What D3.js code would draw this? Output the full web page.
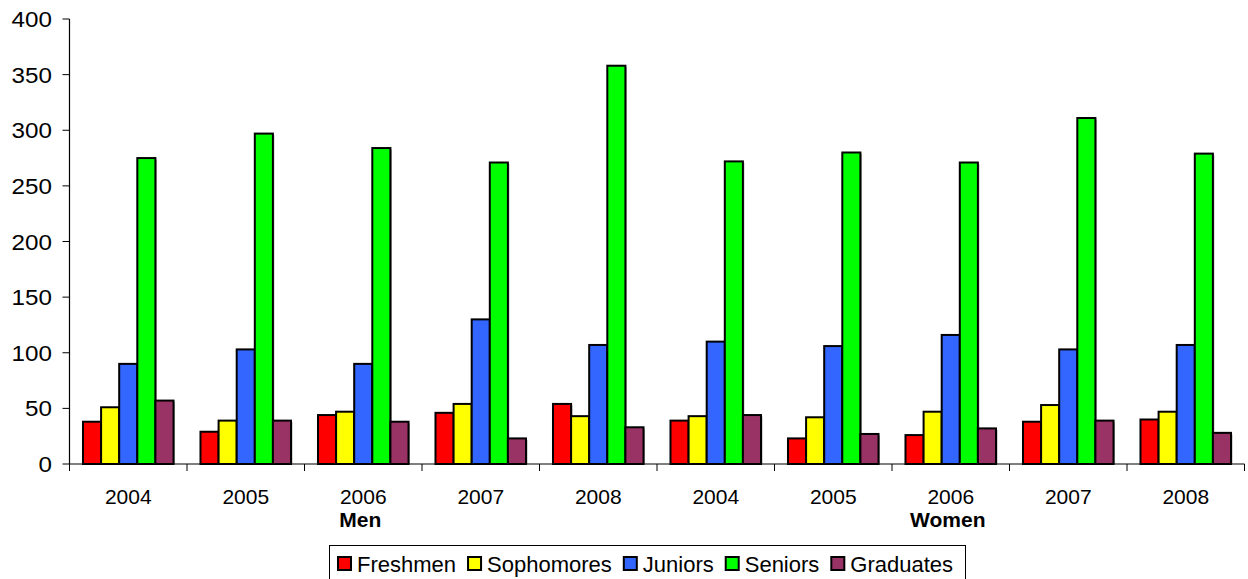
<!DOCTYPE html>
<html>
<head>
<meta charset="utf-8">
<script src="https://cdn.jsdelivr.net/npm/d3@7"></script>
<style>
  body { margin: 0; background: #fff; }
  text { font-family: "Liberation Sans", Arial, sans-serif; fill: #000; }
</style>
</head>
<body>
<svg id="chart" width="1248" height="579"></svg>
<script>
var width = 1248;
var height = 579;

// data
var years = ["2004", "2005", "2006", "2007", "2008"];
var sexes = ["Men", "Women"];
var series = ["Freshmen", "Sophomores", "Juniors", "Seniors", "Graduates"];
var colors = ["#ff0000", "#ffff00", "#3366ff", "#00ff00", "#993366"];

var freshmen   = [38, 29, 44, 46, 54, 39, 23, 26, 38, 40];
var sophomores = [51, 39, 47, 54, 43, 43, 42, 47, 53, 47];
var juniors    = [90, 103, 90, 130, 107, 110, 106, 116, 103, 107];
var seniors    = [275, 297, 284, 271, 358, 272, 280, 271, 311, 279];
var graduates  = [57, 39, 38, 23, 33, 44, 27, 32, 39, 28];

var yTicks = [0, 50, 100, 150, 200, 250, 300, 350, 400];

var values = [freshmen, sophomores, juniors, seniors, graduates];

// one entry per category (sex + year)
var groups = [];
sexes.forEach(function (s) {
  years.forEach(function (y) { groups.push(s + "|" + y); });
});

var margin = { left: 69.5, right: 3.5, top: 19, bottom: 115 };

var x = d3.scaleBand()
  .domain(groups)
  .range([margin.left, width - margin.right])
  .padding(0);

var xInner = d3.scaleBand()
  .domain(series)
  .range([0, x.bandwidth()])
  .paddingInner(0)
  .paddingOuter(0.745);

var y = d3.scaleLinear()
  .domain([0, 400])
  .range([464, margin.top]);

var svg = d3.select("#chart");

// bars
var g = svg.append("g");
groups.forEach(function (grp, gi) {
  var cell = g.append("g").attr("transform", "translate(" + x(grp) + ",0)");
  series.forEach(function (s, si) {
    var v = values[si][gi];
    // soft shadow
    cell.append("rect")
      .attr("x", xInner(s) + 1.5)
      .attr("y", y(v) + 1.5)
      .attr("width", xInner.bandwidth())
      .attr("height", y(0) - y(v) - 1.5)
      .attr("fill", "#b0b0b0");
    cell.append("rect")
      .attr("x", xInner(s))
      .attr("y", y(v))
      .attr("width", xInner.bandwidth())
      .attr("height", y(0) - y(v))
      .attr("fill", colors[si])
      .attr("stroke", "#000")
      .attr("stroke-width", 2);
  });
});

// y axis
var yAxis = svg.append("g");
yAxis.append("line")
  .attr("x1", margin.left).attr("x2", margin.left)
  .attr("y1", y(400)).attr("y2", y(0))
  .attr("stroke", "#000").attr("stroke-width", 1.2);
yAxis.selectAll(".yt")
  .data(yTicks)
  .join("line")
  .attr("x1", margin.left - 7).attr("x2", margin.left)
  .attr("y1", d => y(d)).attr("y2", d => y(d))
  .attr("stroke", "#000").attr("stroke-width", 1);
yAxis.selectAll(".yl")
  .data(yTicks)
  .join("text")
  .attr("x", 52)
  .attr("y", d => y(d) + 8)
  .attr("text-anchor", "end")
  .style("font-size", "22px")
  .each(function (d) {
    var t = d3.select(this).text(d);
    // reference digits are drawn a little wider than the font
    t.attr("textLength", this.getComputedTextLength() * 1.1)
     .attr("lengthAdjust", "spacingAndGlyphs");
  });

// x axis
var xAxis = svg.append("g");
xAxis.append("line")
  .attr("x1", margin.left).attr("x2", width - margin.right)
  .attr("y1", y(0)).attr("y2", y(0))
  .attr("stroke", "#000").attr("stroke-width", 1.2);
var edges = groups.map(d => x(d)).concat([x(groups[groups.length - 1]) + x.bandwidth()]);
xAxis.selectAll(".xt")
  .data(edges)
  .join("line")
  .attr("x1", d => d).attr("x2", d => d)
  .attr("y1", y(0)).attr("y2", y(0) + 7)
  .attr("stroke", "#000").attr("stroke-width", 1);
xAxis.selectAll(".xl")
  .data(groups)
  .join("text")
  .attr("x", d => x(d) + x.bandwidth() / 2)
  .attr("y", 504)
  .attr("text-anchor", "middle")
  .style("font-size", "21px")
  .text(d => d.split("|")[1]);

// sex labels under middle year
sexes.forEach(function (s) {
  var mid = s + "|" + years[2];
  xAxis.append("text")
    .attr("x", x(mid) + x.bandwidth() / 2 - 3)
    .attr("y", 527)
    .attr("text-anchor", "middle")
    .style("font-size", "21px")
    .style("font-weight", "bold")
    .text(s);
});

// legend
var legend = svg.append("g");
legend.append("rect")
  .attr("x", 329.5).attr("y", 545.5)
  .attr("width", 636).attr("height", 40)
  .attr("fill", "#fff")
  .attr("stroke", "#000").attr("stroke-width", 1);

var lx = 338;
series.forEach(function (s, i) {
  legend.append("rect")
    .attr("x", lx).attr("y", 557)
    .attr("width", 13).attr("height", 13)
    .attr("fill", colors[i])
    .attr("stroke", "#000").attr("stroke-width", 2);
  var t = legend.append("text")
    .attr("x", lx + 19)
    .attr("y", 572)
    .style("font-size", "22px")
    .text(s);
  lx += 19 + t.node().getComputedTextLength() + 12;
});
</script>
</body>
</html>
